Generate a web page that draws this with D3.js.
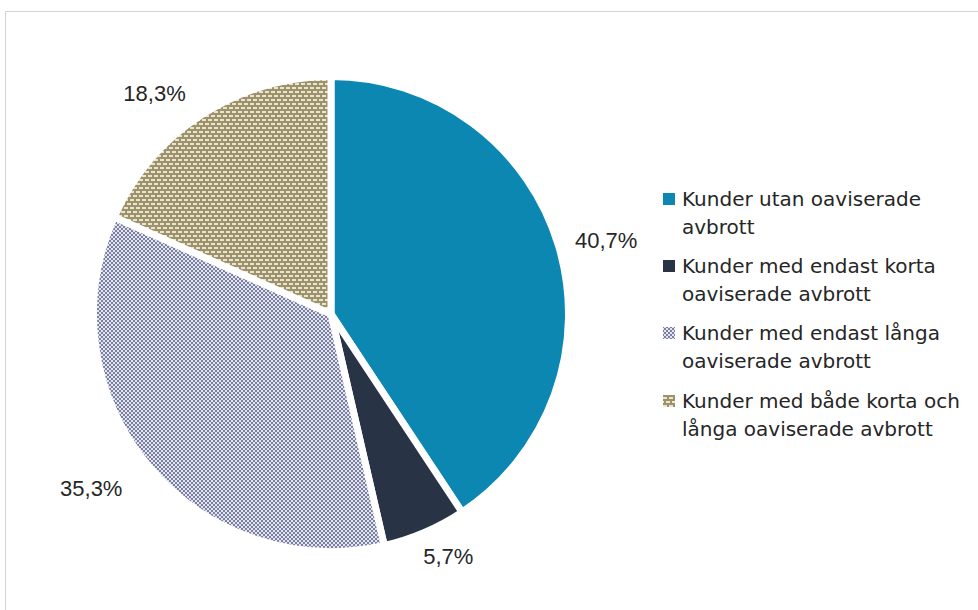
<!DOCTYPE html>
<html><head><meta charset="utf-8">
<script src="https://cdn.jsdelivr.net/npm/d3@7"></script>
<style>html,body{margin:0;padding:0;background:#fff;}svg{display:block;}</style>
</head><body>
<svg id="chart" width="978" height="610"></svg>
<script>
// ---- data ----
const categories = [
  "Kunder utan oaviserade avbrott",
  "Kunder med endast korta oaviserade avbrott",
  "Kunder med endast långa oaviserade avbrott",
  "Kunder med både korta och långa oaviserade avbrott"
];
const values = [40.7, 5.7, 35.3, 18.3];
const valueLabels = ["40,7%", "5,7%", "35,3%", "18,3%"];
const legendLines = [
  ["Kunder utan oaviserade", "avbrott"],
  ["Kunder med endast korta", "oaviserade avbrott"],
  ["Kunder med endast långa", "oaviserade avbrott"],
  ["Kunder med både korta och", "långa oaviserade avbrott"]
];

// ---- drawing ----
const svg = d3.select("#chart");
const W = 978, H = 610;
svg.append("rect").attr("width", W).attr("height", H).attr("fill", "#fff");
// chart area border
svg.append("rect").attr("x", 5.5).attr("y", 11.5).attr("width", W + 10).attr("height", H + 10)
  .attr("fill", "none").attr("stroke", "#d4d4d4").attr("stroke-width", 1);

const defs = svg.append("defs");
// grey checker pattern
const pg = defs.append("pattern").attr("id", "pGrey").attr("patternUnits", "userSpaceOnUse")
  .attr("width", 4).attr("height", 4);
pg.append("rect").attr("width", 4).attr("height", 4).attr("fill", "#e2e4ee");
pg.append("rect").attr("x", 0).attr("y", 0).attr("width", 2).attr("height", 2).attr("fill", "#7b80a2");
pg.append("rect").attr("x", 2).attr("y", 2).attr("width", 2).attr("height", 2).attr("fill", "#7b80a2");
// tan brick-dash pattern
const pt = defs.append("pattern").attr("id", "pTan").attr("patternUnits", "userSpaceOnUse")
  .attr("width", 6).attr("height", 8);
pt.append("rect").attr("width", 6).attr("height", 8).attr("fill", "#9a9271");
pt.append("rect").attr("x", 0).attr("y", 1).attr("width", 4).attr("height", 2).attr("fill", "#eee5c4");
pt.append("rect").attr("x", 3).attr("y", 5).attr("width", 4).attr("height", 2).attr("fill", "#eee5c4");
pt.append("rect").attr("x", -3).attr("y", 5).attr("width", 4).attr("height", 2).attr("fill", "#eee5c4");

const fills = ["#0b87b2", "#283346", "url(#pGrey)", "url(#pTan)"];

const cx = 331, cy = 314, r = 237.5;
const pie = d3.pie().sort(null).value(d => d)(values);
const arc = d3.arc().innerRadius(0).outerRadius(r);
const g = svg.append("g").attr("transform", `translate(${cx},${cy})`);
g.selectAll("path.slice").data(pie).join("path").attr("class", "slice")
  .attr("d", arc).attr("fill", (d, i) => fills[i])
  .attr("stroke", "#fff").attr("stroke-width", 7).attr("stroke-linejoin", "miter");

// data labels (outside end)
const labelFont = 22;
const labelR = 252;
const nudge = [[4, 1.5], [8, 2], [-21, 8.5], [-22.5, -1]];
const lbl = g.selectAll("text.lbl").data(pie).join("text").attr("class", "lbl")
  .attr("font-family", "'Liberation Sans', Arial, sans-serif")
  .attr("font-size", labelFont).attr("fill", "#262626")
  .attr("text-anchor", "middle").attr("dominant-baseline", "central")
  .text((d, i) => valueLabels[i]);
lbl.each(function(d, i) {
  const t = d3.select(this);
  const w = this.getComputedTextLength();
  const a = (d.startAngle + d.endAngle) / 2;
  const s = Math.sin(a), c = Math.cos(a);
  const x = labelR * s + (w / 2) * s + nudge[i][0];
  const y = -labelR * c - 10 * c + nudge[i][1];
  t.attr("x", x).attr("y", y);
});

// legend
const legX = 663, textX = 682;
const firstBase = [206, 273, 340, 408];
const lineGap = 28;
const leg = svg.append("g");
legendLines.forEach((lines, i) => {
  const b = firstBase[i];
  leg.append("rect").attr("x", legX).attr("y", b - 13).attr("width", 12).attr("height", 12)
    .attr("fill", fills[i]);
  const t = leg.append("text").attr("font-family", "'DejaVu Sans', sans-serif")
    .attr("font-size", 20).attr("fill", "#262626");
  lines.forEach((ln, j) => {
    t.append("tspan").attr("x", textX).attr("y", b + j * lineGap).text(ln);
  });
});
</script>
</body></html>
